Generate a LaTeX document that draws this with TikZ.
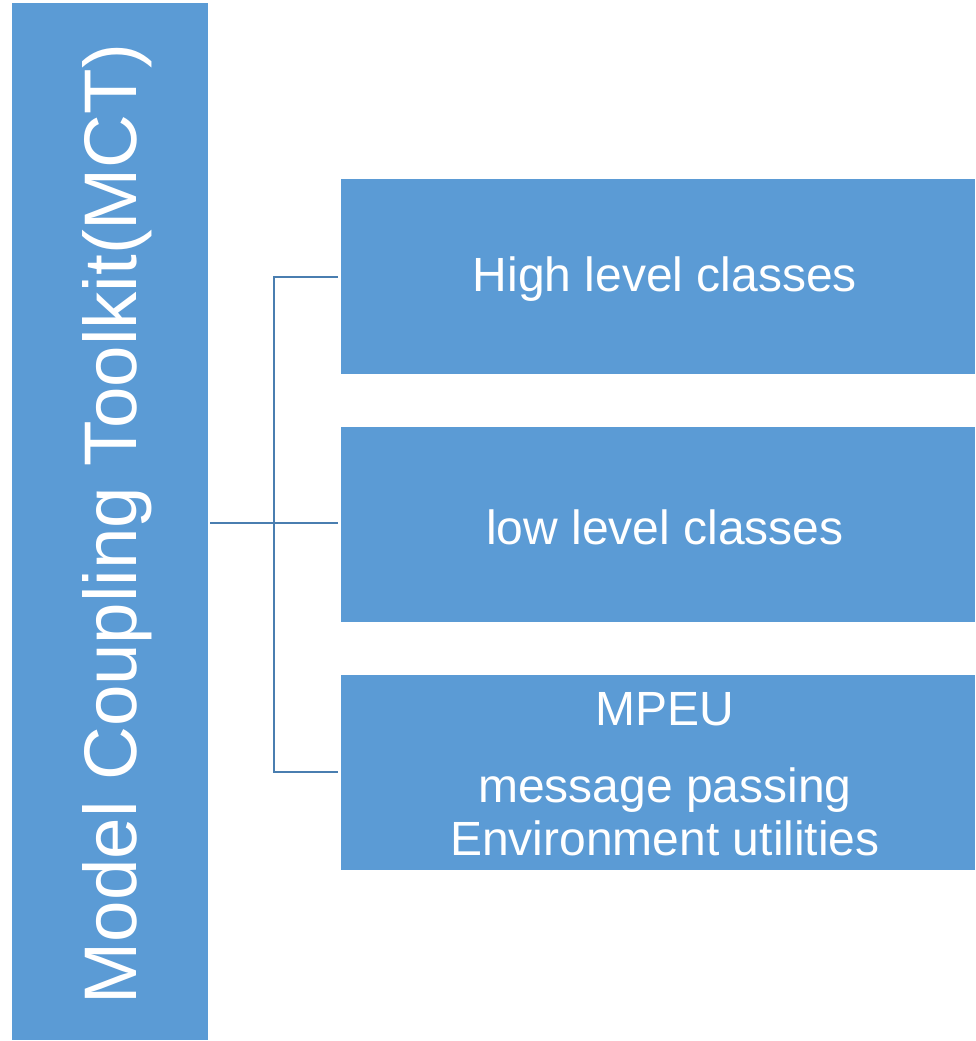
\documentclass[tikz,border=0pt]{standalone}
\usepackage{fontspec}
\setmainfont{Liberation Sans}
\definecolor{boxblue}{HTML}{5B9BD5}
\definecolor{linkblue}{HTML}{4A7EB0}
\begin{document}
\begin{tikzpicture}[x=1pt,y=-1pt,
  panel/.style={fill=boxblue,draw=none,inner sep=0pt},
  link/.style={draw=linkblue,line width=2pt},
  label/.style={text=white,font=\fontsize{48}{53}\selectfont,align=center}]
\useasboundingbox (0,0) rectangle (975,1041);
% main toolkit bar
\path[panel] (12,3) rectangle (208,1040);
\coordinate (root) at (210,523);
\node[rotate=90,text=white,font=\fontsize{74.5}{80}\selectfont] (mct) at (117,524) {Model Coupling Toolkit(MCT)};
% component boxes
\path[panel] (341,179) rectangle (975,374);
\path[panel] (341,427) rectangle (975,622);
\path[panel] (341,675) rectangle (975,870);
\coordinate (b1) at (338,277);
\coordinate (b2) at (338,523);
\coordinate (b3) at (338,772);
\node[label] (high) at (665,279) {High level classes};
\node[label] (low) at (665,527) {low level classes};
\node[label] (mpeu) at (665,709) {MPEU};
\node[label] (mpeutext) at (665,812) {message passing\\Environment utilities};
% tree connectors
\coordinate (trunk) at (274,523);
\draw[link] (root) -- (trunk);
\draw[link] (b1) -| (274,772) -- (b3);
\draw[link] (trunk) -- (b2);
\end{tikzpicture}
\end{document}
